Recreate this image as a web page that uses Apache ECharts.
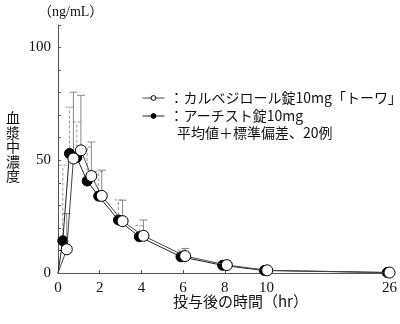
<!DOCTYPE html>
<html><head><meta charset="utf-8">
<script src="https://cdn.jsdelivr.net/npm/echarts@6/dist/echarts.min.js"></script>
<style>html,body{margin:0;padding:0;background:#fff}#c{width:400px;height:324px}</style>
</head><body><div id="c"></div>
<script>
// ---- data ----
const seriesNames = ['カルベジロール錠10mg「トーワ」', 'アーチスト錠10mg'];
// open circles (カルベジロール錠10mg「トーワ」)
const openHours = [0, 0.42, 0.74, 1.1, 1.6, 2.1, 3.1, 4.1, 6.1, 8.1, 10.1, 26];
const openMean  = [0, 10.5, 50.8, 54.4, 43.0, 34.2, 23.0, 16.5, 7.5, 3.5, 1.2, 0.2];
const openSD    = [0, 15.9, 29.4, 24.4, 15.1, 11.4, 9.3, 7.0, 3.4, 2.0, 1.8, 0];
// filled circles (アーチスト錠10mg)
const fillHours = [0, 0.23, 0.55, 0.9, 1.4, 1.95, 2.9, 3.9, 5.9, 7.9, 9.9, 25.7];
const fillMean  = [0, 14.3, 53.0, 51.2, 40.8, 34.1, 23.5, 16.1, 7.2, 3.4, 1.1, 0.2];
const fillSD    = [0, 33.5, 20.6, 15.8, 15.1, 10.9, 8.9, 4.9, 3.0, 1.6, 1.4, 0];
const xTickHours  = [0, 2, 4, 6, 8, 10, 26];
const xTickLabels = ['0', '2', '4', '6', '8', '10', '26'];
const yLabelValues = [0, 50, 100];
const yTitleChars = ['血', '漿', '中', '濃', '度'];

// broken time axis: linear to 10 h, compressed after
const BREAK_AT = 10, BREAK_K = 0.369;
const toAxis = t => t <= BREAK_AT ? t : BREAK_AT + (t - BREAK_AT) * BREAK_K;

const SERIF = "'Liberation Serif','DejaVu Serif','Noto Sans CJK JP',serif";
const JP = "'Noto Sans CJK JP','Liberation Serif',serif";

function lineData(hours, mean) {
  return hours.map((h, i) => {
    const d = {value: [toAxis(h), mean[i]]};
    if (h === 0) d.symbol = 'none';
    return d;
  });
}
function errData(hours, mean, sd) {
  const out = [];
  hours.forEach((h, i) => { if (sd[i] > 0) out.push([toAxis(h), mean[i], mean[i] + sd[i]]); });
  return out;
}
function errRender(dashed) {
  return function (params, api) {
    const x = api.value(0);
    const p0 = api.coord([x, api.value(1)]);
    const p1 = api.coord([x, api.value(2)]);
    const style = {stroke: dashed ? '#999' : '#888', lineWidth: 1, lineDash: dashed ? [3, 2] : null};
    return {type: 'group', children: [
      {type: 'line', shape: {x1: p0[0], y1: p0[1], x2: p1[0], y2: p1[1]}, style: style},
      {type: 'line', shape: {x1: p1[0] - 4, y1: p1[1], x2: p1[0] + 4, y2: p1[1]}, style: style}
    ]};
  };
}

const chart = echarts.init(document.getElementById('c'), null, {renderer: 'canvas'});
const xTickPos = xTickHours.map(toAxis);
const graphics = [
  {type: 'text', left: 38, top: 5, style: {text: '（ng/mL）', fontSize: 14, fill: '#111', fontFamily: SERIF}},
  {type: 'text', left: 173, top: 294, style: {text: '投与後の時間（hr）', fontSize: 15, fill: '#111', fontFamily: JP}},
  {type: 'text', left: 177, top: 126, style: {text: '平均値＋標準偏差、20例', fontSize: 14, fill: '#111', fontFamily: JP}}
];
yTitleChars.forEach((ch, i) => graphics.push(
  {type: 'text', left: 6, top: 111 + i * 14.5, style: {text: ch, fontSize: 14, fill: '#111', fontFamily: JP}}));

chart.setOption({
  animation: false,
  backgroundColor: '#fff',
  grid: {left: 58, right: 3, top: 25, bottom: 51, containLabel: false},
  xAxis: {
    type: 'value', min: 0, max: 16.14,
    axisLine: {show: true, lineStyle: {color: '#555', width: 1}},
    axisTick: {show: true, inside: true, length: 3, customValues: xTickPos, lineStyle: {color: '#555'}},
    axisLabel: {show: true, customValues: xTickPos, margin: 8, color: '#111', fontSize: 15, fontFamily: SERIF,
      formatter: v => { const i = xTickPos.findIndex(p => Math.abs(p - v) < 1e-6); return i >= 0 ? xTickLabels[i] : ''; }},
    splitLine: {show: false}
  },
  yAxis: {
    type: 'value', min: 0, max: 110, interval: 10,
    axisLine: {show: true, lineStyle: {color: '#555', width: 1}},
    axisTick: {show: true, inside: true, length: 3, lineStyle: {color: '#555'}},
    axisLabel: {show: true, margin: 7, color: '#111', fontSize: 15, fontFamily: SERIF,
      formatter: v => yLabelValues.indexOf(v) >= 0 ? String(v) : ''},
    splitLine: {show: false}
  },
  legend: {
    orient: 'vertical', left: 137, top: 86, itemGap: 4, itemWidth: 22, itemHeight: 6,
    data: seriesNames,
    itemStyle: {borderWidth: 1},
    lineStyle: {width: 1},
    textStyle: {fontSize: 14, color: '#111', fontFamily: JP},
    formatter: n => '：' + n
  },
  graphic: graphics,
  series: [
    {type: 'custom', name: 'errFill', renderItem: errRender(true), data: errData(fillHours, fillMean, fillSD), z: 1, silent: true},
    {type: 'custom', name: 'errOpen', renderItem: errRender(false), data: errData(openHours, openMean, openSD), z: 1, silent: true},
    {type: 'line', name: seriesNames[1], data: lineData(fillHours, fillMean), z: 3,
      symbol: 'circle', symbolSize: 10, showAllSymbol: true,
      lineStyle: {color: '#222', width: 1}, itemStyle: {color: '#000', borderColor: '#000', borderWidth: 1}},
    {type: 'line', name: seriesNames[0], data: lineData(openHours, openMean), z: 4,
      symbol: 'circle', symbolSize: 11, showAllSymbol: true,
      lineStyle: {color: '#444', width: 1}, itemStyle: {color: '#fff', borderColor: '#000', borderWidth: 1}}
  ]
});
</script>
</body></html>
